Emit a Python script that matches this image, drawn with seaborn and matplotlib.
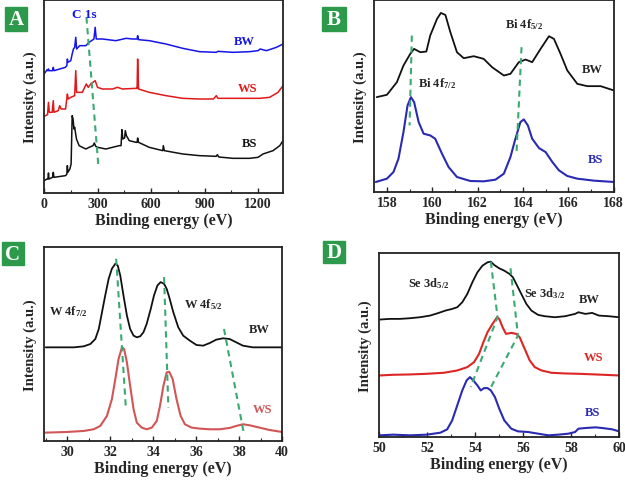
import pandas as pd
import matplotlib
matplotlib.use("Agg")
import matplotlib.pyplot as plt
from matplotlib.patches import Rectangle
from matplotlib.ticker import MultipleLocator
import seaborn as sns

# ---- panel A: survey spectra (binding energy eV, intensity a.u.)
a_bs_e = [0, 18, 22, 25, 28, 48, 52, 56, 120, 128, 131, 134, 145, 152, 158, 163, 168, 172, 182, 197,
          215, 235, 253, 275, 282, 290, 300, 347, 384, 422, 432, 437, 442, 452, 456, 462, 478, 516,
          522, 525, 530, 590, 666, 669, 675, 778, 872, 966, 972, 980, 1059, 1153, 1200, 1228, 1284,
          1322, 1340]
a_bs_i = [37, 42, 42, 60, 42, 47, 62, 47, 52, 56, 82, 62, 72, 87, 232, 222, 192, 197, 162, 142,
          137, 132, 137, 142, 150, 140, 137, 132, 137, 142, 142, 190, 162, 165, 187, 172, 157, 152,
          152, 165, 152, 137, 127, 142, 127, 117, 112, 110, 115, 108, 104, 104, 107, 117, 127,
          142, 157]
a_ws_e = [0, 20, 25, 30, 46, 52, 56, 80, 88, 96, 121, 131, 136, 150, 172, 178, 183, 215, 237, 248,
          262, 287, 300, 328, 384, 412, 440, 516, 522, 525, 530, 590, 684, 778, 872, 950, 966, 975,
          1059, 1153, 1209, 1265, 1312, 1340]
a_ws_i = [230, 235, 272, 242, 242, 277, 242, 247, 262, 252, 252, 297, 282, 287, 292, 367, 302, 302,
          327, 317, 327, 337, 317, 312, 312, 317, 312, 314, 314, 402, 312, 302, 292, 284, 282, 282,
          292, 284, 284, 284, 284, 287, 302, 322]
a_bw_e = [0, 18, 22, 25, 28, 48, 52, 56, 120, 128, 131, 134, 150, 158, 165, 172, 178, 183, 200, 234,
          253, 280, 287, 293, 328, 403, 460, 497, 522, 525, 530, 590, 684, 778, 872, 966, 975, 1059,
          1153, 1200, 1212, 1247, 1303, 1340]
a_bw_i = [357, 370, 367, 372, 367, 367, 377, 367, 377, 382, 402, 392, 397, 417, 432, 437, 467, 432,
          442, 442, 452, 462, 497, 462, 462, 457, 464, 462, 462, 472, 460, 457, 447, 434, 424, 422,
          425, 422, 424, 427, 432, 427, 437, 447]

# ---- panel B: Bi 4f
b_bw_e = [157.54, 157.99, 158.43, 158.72, 159.02, 159.19, 159.46, 159.73, 159.90, 160.20, 160.37,
          160.57, 160.79, 161.08, 161.38, 161.82, 162.26, 162.63, 163.15, 163.44, 163.81, 164.11,
          164.40, 164.77, 165.14, 165.36, 165.65, 165.95, 166.39, 166.83, 167.42, 168.01]
b_bw_i = [285, 292, 330, 380, 415, 430, 420, 422, 470, 520, 538, 532, 480, 420, 402, 408, 400, 375,
          350, 355, 390, 398, 390, 430, 468, 460, 415, 365, 325, 318, 318, 305]
b_bs_e = [157.50, 157.99, 158.28, 158.50, 158.72, 158.90, 159.05, 159.19, 159.39, 159.61, 159.90,
          160.12, 160.42, 160.71, 161.08, 161.67, 162.26, 162.78, 163.15, 163.44, 163.66, 163.88,
          164.03, 164.21, 164.40, 164.70, 164.99, 165.29, 165.58, 165.95, 166.39, 167.13, 168.01]
b_bs_i = [30, 40, 60, 100, 180, 260, 285, 270, 210, 175, 170, 160, 115, 75, 45, 33, 32, 37, 55, 105,
          160, 210, 218, 200, 160, 132, 120, 90, 65, 48, 40, 34, 30]

# ---- panel C: W 4f
c_bw_e = [29.0, 29.69, 30.31, 30.77, 31.08, 31.31, 31.47, 31.62, 31.77, 31.93, 32.08, 32.24, 32.35,
          32.47, 32.62, 32.78, 32.93, 33.09, 33.24, 33.40, 33.55, 33.70, 33.89, 34.04, 34.20, 34.35,
          34.51, 34.63, 34.75, 34.94, 35.17, 35.40, 35.71, 36.02, 36.33, 36.64, 36.94, 37.25, 37.56,
          37.87, 38.18, 38.64, 39.26, 40.0]
c_bw_i = [280, 280, 280, 283, 290, 305, 335, 385, 435, 485, 515, 530, 525, 495, 435, 375, 335, 315,
          310, 313, 325, 350, 395, 435, 465, 475, 470, 455, 430, 385, 340, 315, 300, 287, 285, 293,
          303, 307, 305, 295, 285, 280, 280, 280]
c_ws_e = [29.0, 30.0, 30.77, 31.23, 31.54, 31.85, 32.08, 32.24, 32.39, 32.55, 32.65, 32.78, 32.93,
          33.09, 33.24, 33.47, 33.70, 33.94, 34.17, 34.32, 34.48, 34.63, 34.75, 34.91, 35.09, 35.28,
          35.48, 35.79, 36.17, 36.64, 37.10, 37.56, 37.87, 38.18, 38.49, 38.95, 39.41, 40.0]
c_ws_i = [25, 27, 30, 35, 45, 75, 125, 185, 245, 280, 275, 235, 165, 95, 55, 40, 35, 40, 60, 105,
          165, 205, 207, 185, 125, 75, 50, 40, 37, 35, 35, 39, 45, 50, 47, 40, 33, 27]

# ---- panel D: Se 3d
d_bw_e = [50.03, 50.45, 50.87, 51.29, 51.71, 52.13, 52.49, 52.77, 53.05, 53.26, 53.47, 53.68, 53.89,
          54.10, 54.31, 54.52, 54.66, 54.80, 55.01, 55.22, 55.44, 55.58, 55.72, 55.93, 56.14, 56.35,
          56.63, 56.91, 57.33, 57.75, 58.17, 58.31, 58.60, 58.88, 59.16, 59.58, 60.0]
d_bw_i = [353, 355, 355, 357, 360, 365, 373, 380, 385, 390, 405, 430, 465, 495, 515, 525, 527, 517,
          507, 500, 490, 480, 460, 430, 400, 380, 367, 363, 360, 363, 370, 375, 370, 373, 365, 363, 360]
d_ws_e = [50.03, 50.59, 51.29, 51.99, 52.70, 53.26, 53.68, 53.96, 54.17, 54.35, 54.52, 54.73, 54.92,
          55.01, 55.15, 55.29, 55.51, 55.72, 55.86, 56.07, 56.28, 56.49, 56.77, 57.19, 57.75, 58.31,
          59.02, 60.0]
d_ws_i = [185, 187, 188, 190, 193, 200, 210, 225, 250, 285, 315, 340, 360, 355, 330, 310, 313, 310,
          300, 265, 230, 210, 200, 193, 191, 190, 188, 185]
d_bs_e = [50.03, 50.59, 51.29, 51.99, 52.56, 52.84, 53.05, 53.26, 53.47, 53.65, 53.79, 53.93, 54.10,
          54.24, 54.38, 54.52, 54.66, 54.83, 55.01, 55.22, 55.51, 55.79, 56.21, 56.63, 57.05, 57.47,
          57.89, 58.17, 58.31, 58.60, 59.02, 59.30, 59.72, 60.0]
d_bs_i = [5, 7, 5, 7, 13, 23, 50, 95, 140, 170, 180, 170, 155, 140, 147, 147, 140, 120, 85, 50, 25,
          17, 15, 10, 5, 7, 10, 15, 25, 27, 29, 27, 23, 17]

# guide lines (energy, intensity) and annotations
a_guide = ([238, 304], [527, 87])
b_guides = [([159.09, 158.99], [470, 200]), ([163.93, 163.71], [435, 120])]
c_guides = [([32.28, 32.73], [545, 100]), ([34.51, 34.71], [490, 100]), ([37.30, 38.21], [335, 27])]
d_guides = [([54.66, 54.94, 53.82], [527, 360, 150]), ([55.48, 55.79, 54.63], [507, 305, 145])]

BLACK = "#111111"
BLUE_A, RED_A = "#1414e6", "#e01818"
BLUE = "#2a2ab2"
RED_C = "#d25656"
RED_D = "#dc2626"
GUIDE = "#3aaa72"
GREEN = "#2c9a4a"

sns.set_style("ticks")
plt.rcParams["font.family"] = ["Liberation Serif", "DejaVu Serif"]
plt.rcParams["font.weight"] = "bold"
plt.rcParams["mathtext.fontset"] = "custom"
plt.rcParams["mathtext.rm"] = "Liberation Serif:bold"
plt.rcParams["mathtext.default"] = "rm"


def spectrum(ax, e, i, color, lw=1.3):
    df = pd.DataFrame({"energy": e, "intensity": i})
    sns.lineplot(data=df, x="energy", y="intensity", ax=ax, color=color, lw=lw,
                 sort=False, estimator=None)


def guide(ax, e, i):
    ax.plot(e, i, color=GUIDE, lw=1.5, ls=(0, (3, 2.2)))


def style_axes(ax, xlim, ylim, major, minor):
    ax.set_xlim(xlim)
    ax.set_ylim(ylim)
    ax.xaxis.set_major_locator(MultipleLocator(major))
    ax.xaxis.set_minor_locator(MultipleLocator(minor))
    ax.set_yticks([])
    ax.tick_params(axis="x", which="both", direction="in", labelsize=10, pad=3)
    ax.tick_params(axis="x", which="major", length=3.5, width=1.0)
    ax.tick_params(axis="x", which="minor", length=2, width=0.8)
    for lbl in ax.get_xticklabels():
        lbl.set_fontweight("bold")
    for s in ax.spines.values():
        s.set_visible(True)
        s.set_linewidth(1.3)
        s.set_color("#222222")
    ax.set_xlabel("Binding energy (eV)", fontsize=11.5, fontweight="bold", labelpad=1)
    ax.set_ylabel("Intensity (a.u.)", fontsize=10.5, fontweight="bold", labelpad=5)


def panel_tag(fig, letter, x0, y0, w, h):
    W, H = 625, 481
    fig.patches.append(Rectangle((x0 / W, 1 - (y0 + h) / H), w / W, h / H,
                                 transform=fig.transFigure, color=GREEN, zorder=5))
    fig.text((x0 + w / 2) / W, 1 - (y0 + h / 2) / H, letter, color="white", fontsize=15,
             fontweight="bold", ha="center", va="center", zorder=6)


fig = plt.figure(figsize=(6.25, 4.81), dpi=100)
ax_a = fig.add_axes([0.0704, 0.5967, 0.3824, 0.4012])
ax_b = fig.add_axes([0.5984, 0.5988, 0.3840, 0.3992])
ax_c = fig.add_axes([0.0704, 0.0811, 0.3808, 0.4033])
ax_d = fig.add_axes([0.6064, 0.0894, 0.3840, 0.3825])

# A
spectrum(ax_a, a_bs_e, a_bs_i, BLACK, 1.1)
spectrum(ax_a, a_ws_e, a_ws_i, RED_A, 1.1)
spectrum(ax_a, a_bw_e, a_bw_i, BLUE_A, 1.1)
guide(ax_a, *a_guide)
style_axes(ax_a, (0, 1340), (0, 579), 300, 150)
ax_a.text(225, 537, "C 1s", color=BLUE_A, fontsize=9.5, ha="center", va="center")
ax_a.text(1125, 457, "BW", color=BLUE_A, fontsize=9, ha="center", va="center")
ax_a.text(1144, 314, "WS", color=RED_A, fontsize=9, ha="center", va="center")
ax_a.text(1153, 150, "BS", color=BLACK, fontsize=9, ha="center", va="center")

# B
spectrum(ax_b, b_bw_e, b_bw_i, BLACK)
spectrum(ax_b, b_bs_e, b_bs_i, BLUE, 1.5)
for g in b_guides:
    guide(ax_b, *g)
style_axes(ax_b, (157.42, 168.01), (0, 577), 2, 1)
ax_b.text(164.03, 505, r"Bi 4f$_{5/2}$", fontsize=9, ha="center", va="center")
ax_b.text(160.2, 330, r"Bi 4f$_{7/2}$", fontsize=9, ha="center", va="center")
ax_b.text(167.06, 370, "BW", fontsize=9, ha="center", va="center")
ax_b.text(167.2, 100, "BS", color=BLUE, fontsize=9, ha="center", va="center")

# C
spectrum(ax_c, c_bw_e, c_bw_i, BLACK)
spectrum(ax_c, c_ws_e, c_ws_i, RED_C, 1.5)
for g in c_guides:
    guide(ax_c, *g)
style_axes(ax_c, (28.92, 40.0), (0, 580), 2, 1)
ax_c.text(30.08, 390, r"W 4f$_{7/2}$", fontsize=9, ha="center", va="center")
ax_c.text(36.33, 410, r"W 4f$_{5/2}$", fontsize=9, ha="center", va="center")
ax_c.text(38.95, 335, "BW", fontsize=9, ha="center", va="center")
ax_c.text(39.1, 95, "WS", color=RED_C, fontsize=9, ha="center", va="center")

# D
spectrum(ax_d, d_bw_e, d_bw_i, BLACK)
spectrum(ax_d, d_ws_e, d_ws_i, RED_D, 1.5)
spectrum(ax_d, d_bs_e, d_bs_i, BLUE, 1.5)
for g in d_guides:
    guide(ax_d, *g)
style_axes(ax_d, (50, 60), (0, 553), 2, 1)
ax_d.text(52.06, 465, r"Se 3d$_{5/2}$", fontsize=9, ha="center", va="center")
ax_d.text(56.91, 435, r"Se 3d$_{3/2}$", fontsize=9, ha="center", va="center")
ax_d.text(58.74, 415, "BW", fontsize=9, ha="center", va="center")
ax_d.text(58.95, 240, "WS", color=RED_D, fontsize=9, ha="center", va="center")
ax_d.text(58.88, 75, "BS", color=BLUE, fontsize=9, ha="center", va="center")

panel_tag(fig, "A", 5, 8, 22, 24)
panel_tag(fig, "B", 322, 8, 24, 24)
panel_tag(fig, "C", 2, 243, 22, 23)
panel_tag(fig, "D", 323, 242, 22, 22)

fig.savefig("out.png", dpi=100)
